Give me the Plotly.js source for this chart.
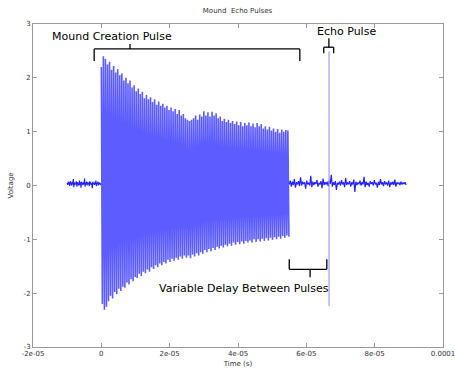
<!DOCTYPE html>
<html><head><meta charset="utf-8">
<script src="https://cdn.plot.ly/plotly-3.0.1.min.js"></script>
<style>html,body{margin:0;padding:0;background:#fff}#chart{width:455px;height:371px}</style>
</head><body><div id="chart"></div>
<script>
// Time step info (seconds)
var preStart = -10e-6, preStep = 0.15e-6;
var pulseStart = 0, pulseStep = 0.3e-6;
var postStart = 55e-6, postStep = 0.3e-6;
var echoStart = 66.65e-6, echoStep = 0.005e-6;

// Noise before the mound creation pulse (V)
var preNoise = [0.05,0.01,0.07,0.02,0.06,-0.01,0.08,0.03,0.05,0.0,0.07,0.02,0.12,-0.03,0.06,0.01,0.05,0.03,0.08,-0.02,0.06,0.02,0.04,0.0,0.09,0.01,0.06,-0.04,0.07,0.03,0.05,0.01,0.06,0.02,0.13,-0.02,0.05,0.02,0.07,0.0,0.06,0.03,0.05,-0.01,0.08,0.02,0.06,0.01,0.04,-0.05,0.07,0.03,0.05,0.01,0.06,0.02,0.09,-0.01,0.05,0.03,0.07,0.0,0.06,0.02,0.05,0.01,0.04];

// Mound creation pulse: positive and negative peaks (V)
var upperPeaks = [2.2,2.4,2.35,2.25,2.3,2.15,2.22,2.1,2.16,2.05,
2.08,1.95,2.0,1.9,1.95,1.82,1.86,1.75,1.8,1.7,
1.74,1.62,1.68,1.6,1.64,1.55,1.6,1.5,1.56,1.48,
1.52,1.45,1.48,1.4,1.45,1.38,1.42,1.33,1.4,1.3,
1.33,1.25,1.22,1.2,1.22,1.25,1.3,1.22,1.32,1.28,
1.38,1.3,1.36,1.28,1.37,1.3,1.34,1.25,1.28,1.2,
1.24,1.18,1.22,1.16,1.2,1.14,1.19,1.12,1.18,1.1,
1.16,1.12,1.17,1.1,1.15,1.08,1.16,1.1,1.14,1.06,
1.1,1.04,1.09,1.02,1.06,1.0,1.05,0.98,1.04,1.0,
1.03,1.02];
var lowerPeaks = [-2.2,-2.31,-2.25,-2.15,-2.05,-2.1,-1.98,-2.02,-1.92,-1.96,
-1.88,-1.9,-1.8,-1.84,-1.74,-1.78,-1.7,-1.72,-1.64,-1.68,
-1.6,-1.63,-1.56,-1.6,-1.52,-1.55,-1.48,-1.52,-1.45,-1.48,
-1.42,-1.45,-1.38,-1.42,-1.36,-1.4,-1.34,-1.38,-1.32,-1.36,
-1.3,-1.34,-1.3,-1.35,-1.28,-1.32,-1.26,-1.3,-1.24,-1.27,
-1.2,-1.24,-1.18,-1.22,-1.16,-1.2,-1.14,-1.17,-1.12,-1.15,
-1.1,-1.13,-1.08,-1.12,-1.06,-1.1,-1.05,-1.09,-1.04,-1.08,
-1.03,-1.06,-1.02,-1.06,-1.0,-1.05,-1.0,-1.04,-0.99,-1.03,
-0.98,-1.02,-0.97,-1.01,-0.96,-1.0,-0.95,-0.99,-0.94,-0.97,
-0.93,-0.95];

// Noise after the mound pulse (V)
var postNoise = [0.02,0.09,-0.02,0.07,0.01,0.12,-0.04,0.06,0.02,0.08,
-0.01,0.15,0.0,0.07,0.03,0.06,-0.06,0.09,0.02,0.05,
0.0,0.18,-0.03,0.07,0.01,0.06,0.03,0.1,-0.02,0.05,
0.02,0.08,-0.05,0.13,0.01,0.06,0.02,0.07,-0.01,0.09,
0.03,0.2,-0.02,0.06,0.01,0.08,-0.08,0.05,0.02,0.07,
0.0,0.1,0.02,0.06,-0.03,0.14,0.01,0.05,0.03,0.08,
-0.02,0.06,0.02,0.11,-0.12,0.07,0.01,0.05,0.03,0.09,
0.0,0.06,0.02,0.16,-0.03,0.07,0.01,0.05,-0.02,0.08,
0.03,0.06,0.0,0.1,0.02,0.05,-0.04,0.07,0.01,0.12,
0.02,0.06,-0.01,0.08,0.03,0.05,0.0,0.09,-0.03,0.06,
0.02,0.07,0.01,0.11,-0.02,0.06,0.03,0.05,0.01,0.07,
0.02,0.05,0.03,0.06,0.01];

// Echo pulse (V)
var echoPulse = [0.04, 2.49, -2.24, 0.04];

// Tick labels
var xTickVals = [-2e-5, 0, 2e-5, 4e-5, 6e-5, 8e-5, 1e-4];
var xTickText = ['-2e-05','0','2e-05','4e-05','6e-05','8e-05','0.0001'];
var yTickVals = [-3,-2,-1,0,1,2,3];
var yTickText = ['-3','-2','-1','0','1','2','3'];

var pulseY = [];
for (var i = 0; i < upperPeaks.length; i++) { pulseY.push(upperPeaks[i], lowerPeaks[i]); }

var blue = 'rgb(35,35,255)';
var traces = [
  {type:'scatter', mode:'lines', y:preNoise, x0:preStart, dx:preStep, line:{color:blue, width:1.2}, hoverinfo:'skip'},
  {type:'scatter', mode:'lines', y:pulseY, x0:pulseStart, dx:pulseStep, line:{color:'rgb(92,92,255)', width:1.6}, hoverinfo:'skip'},
  {type:'scatter', mode:'lines', y:postNoise, x0:postStart, dx:postStep, line:{color:blue, width:1.2}, hoverinfo:'skip'},
  {type:'scatter', mode:'lines', y:echoPulse, x0:echoStart, dx:echoStep, line:{color:'rgb(150,150,255)', width:0.7}, hoverinfo:'skip'}
];

var font = 'DejaVu Sans, sans-serif';
var blk = {color:'#000', width:1.3};
function seg(x0,y0,x1,y1){ return {type:'line', xref:'x', yref:'y', x0:x0, y0:y0, x1:x1, y1:y1, line:blk}; }
var shapes = [
  // Mound creation bracket
  seg(-2.1e-6,2.314,-2.1e-6,2.537), seg(-2.1e-6,2.537,58.1e-6,2.537), seg(58.1e-6,2.537,58.1e-6,2.314), seg(8.4e-6,2.537,8.4e-6,2.63),
  // Echo bracket
  seg(65.1e-6,2.457,65.1e-6,2.569), seg(65.1e-6,2.569,68.0e-6,2.569), seg(68.0e-6,2.569,68.0e-6,2.457), seg(66.6e-6,2.569,66.6e-6,2.736),
  // Delay bracket
  seg(55.0e-6,-1.372,55.0e-6,-1.558), seg(55.0e-6,-1.558,66.0e-6,-1.558), seg(66.0e-6,-1.558,66.0e-6,-1.372), seg(61.1e-6,-1.558,61.1e-6,-1.706)
];
var annFont = {family:font, size:11, color:'#000'};
var annotations = [
  {x:3.1e-6, y:2.76, xref:'x', yref:'y', text:'Mound Creation Pulse', showarrow:false, font:annFont},
  {x:71.9e-6, y:2.853, xref:'x', yref:'y', text:'Echo Pulse', showarrow:false, font:annFont},
  {x:41.8e-6, y:-1.905, xref:'x', yref:'y', text:'Variable Delay Between Pulses', showarrow:false, font:annFont}
];

var axisCommon = {showgrid:false, zeroline:false, showline:true, linecolor:'#999', linewidth:1, mirror:'ticks',
  ticks:'inside', ticklen:4, tickcolor:'#999', ticklabeloverflow:'allow', tickfont:{family:font, size:7, color:'#333'}};

var layout = {
  width:455, height:371,
  margin:{l:33, r:12, t:24, b:24},
  paper_bgcolor:'#fff', plot_bgcolor:'#fff',
  showlegend:false,
  title:{text:'Mound  Echo Pulses', font:{family:font, size:7, color:'#333'}, x:0.522, xanchor:'center', y:0.972, yanchor:'middle'},
  xaxis:Object.assign({}, axisCommon, {range:[-2e-5, 1e-4], tickmode:'array', tickvals:xTickVals, ticktext:xTickText,
    title:{text:'Time (s)', font:{family:font, size:7, color:'#333'}, standoff:3}}),
  yaxis:Object.assign({}, axisCommon, {range:[-3, 3], tickmode:'array', tickvals:yTickVals, ticktext:yTickText,
    title:{text:'Voltage', font:{family:font, size:7, color:'#333'}, standoff:9}}),
  shapes:shapes,
  annotations:annotations
};
Plotly.newPlot('chart', traces, layout, {staticPlot:true, displayModeBar:false});
</script>
</body></html>
